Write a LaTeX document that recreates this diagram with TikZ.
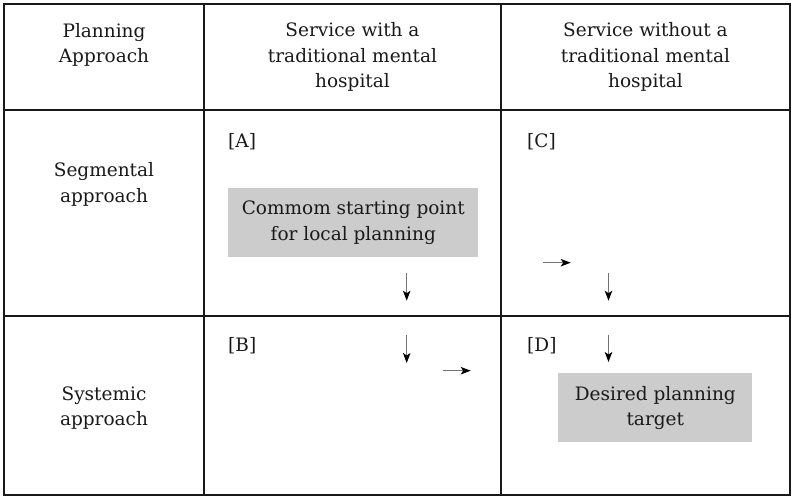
\documentclass[tikz,border=0pt]{standalone}
\usepackage{fontspec}
\setmainfont{DejaVu Serif}
\usetikzlibrary{arrows.meta}
\definecolor{boxgray}{RGB}{204,204,204}
\definecolor{ink}{RGB}{25,25,25}
\begin{document}
\begin{tikzpicture}[x=1pt,y=-1pt,
  rule/.style={draw=ink, line width=1.1pt},
  txt/.style={font=\fontsize{18.5}{25.5}\selectfont, text=ink, align=center, inner sep=0pt},
  tag/.style={font=\fontsize{18.5}{24}\selectfont, text=ink, inner sep=0pt, anchor=west},
  target/.style={txt, fill=boxgray, minimum height=69pt},
  flow/.style={-{Stealth[length=10pt,width=7.5pt,inset=2.5pt,black]}, line width=1pt, draw=black!55}
]
\useasboundingbox (0,0) rectangle (792,497);

% table grid
\draw[rule] (4,4) rectangle (790,495);
\draw[rule] (204,4) -- (204,495);
\draw[rule] (501,4) -- (501,495);
\draw[rule] (4,110) -- (790,110);
\draw[rule] (4,316) -- (790,316);

% header row
\node[txt] (hplan) at (104,45) {Planning\\Approach};
\node[txt] (hwith) at (352.5,57) {Service with a\\traditional mental\\hospital};
\node[txt] (hwithout) at (645.5,57) {Service without a\\traditional mental\\hospital};

% row headings
\node[txt] (rseg) at (104,184.5) {Segmental\\approach};
\node[txt] (rsys) at (104,408) {Systemic\\approach};

% quadrant tags
\node[tag] (qa) at (228,142) {[A]};
\node[tag] (qc) at (527,142) {[C]};
\node[tag] (qb) at (228,346) {[B]};
\node[tag] (qd) at (527,346) {[D]};

% start and target boxes
\node[target, minimum width=250pt] (start) at (353.3,222.8) {Commom starting point\\for local planning};
\node[target, minimum width=194pt] (goal) at (655.3,407.8) {Desired planning\\target};

% arrow end points
\coordinate (a1s) at (406.7,272.7); \coordinate (a1e) at (406.7,300.7);
\coordinate (a2s) at (406.7,335);   \coordinate (a2e) at (406.7,363);
\coordinate (a3s) at (442.7,370.7); \coordinate (a3e) at (470.7,370.7);
\coordinate (a4s) at (542.7,262.7); \coordinate (a4e) at (570.7,262.7);
\coordinate (a5s) at (608.5,272.7); \coordinate (a5e) at (608.5,300.7);
\coordinate (a6s) at (608.5,335);   \coordinate (a6e) at (608.5,362);

\draw[flow] (a1s) -- (a1e);
\draw[flow] (a2s) -- (a2e);
\draw[flow] (a3s) -- (a3e);
\draw[flow] (a4s) -- (a4e);
\draw[flow] (a5s) -- (a5e);
\draw[flow] (a6s) -- (a6e);
\end{tikzpicture}
\end{document}
